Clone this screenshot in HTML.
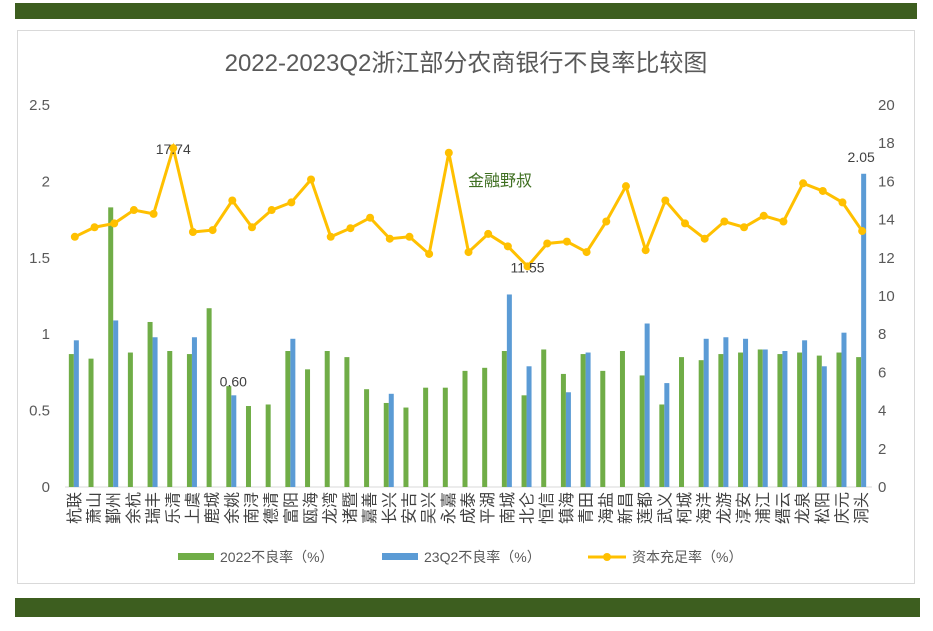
<!DOCTYPE html>
<html><head><meta charset="utf-8"><style>
body{margin:0;background:#fff;width:933px;height:626px;overflow:hidden;font-family:"Liberation Sans","Noto Sans CJK SC",sans-serif}
</style></head><body>
<svg width="933" height="626" xmlns="http://www.w3.org/2000/svg" font-family="Liberation Sans, Noto Sans CJK SC, sans-serif">
<rect x="15" y="3" width="902" height="16" fill="#3d5e1f"/>
<rect x="15" y="598" width="905" height="19" fill="#3d5e1f"/>
<rect x="17.5" y="30.5" width="897" height="553" fill="#fff" stroke="#d9d9d9"/>
<text x="466" y="71" text-anchor="middle" font-size="24" fill="#595959">2022-2023Q2浙江部分农商银行不良率比较图</text>
<g id="plot"></g>
<text x="500" y="186" text-anchor="middle" font-size="16" fill="#3d6e1f">金融野叔</text>
<g font-size="14" fill="#595959">
<rect x="178" y="553" width="36" height="7" fill="#70ad47"/><text x="220" y="562">2022不良率（%）</text>
<rect x="382" y="553" width="36" height="7" fill="#5b9bd5"/><text x="424" y="562">23Q2不良率（%）</text>
<line x1="588" y1="557" x2="626" y2="557" stroke="#ffc000" stroke-width="3"/><circle cx="607" cy="557" r="4" fill="#ffc000"/><text x="632" y="562">资本充足率（%）</text>
</g>
</svg>
<script>
const categories=["杭联","萧山","鄞州","余杭","瑞丰","乐清","上虞","鹿城","余姚","南浔","德清","富阳","瓯海","龙湾","诸暨","嘉善","长兴","安吉","吴兴","永嘉","成泰","平湖","南城","北仑","恒信","镇海","青田","海盐","新昌","莲都","武义","柯城","海洋","龙游","淳安","浦江","缙云","龙泉","松阳","庆元","洞头"];
const npl2022=[0.87,0.84,1.83,0.88,1.08,0.89,0.87,1.17,0.66,0.53,0.54,0.89,0.77,0.89,0.85,0.64,0.55,0.52,0.65,0.65,0.76,0.78,0.89,0.60,0.90,0.74,0.87,0.76,0.89,0.73,0.54,0.85,0.83,0.87,0.88,0.90,0.87,0.88,0.86,0.88,0.85];
const npl23q2=[0.96,null,1.09,null,0.98,null,0.98,null,0.60,null,null,0.97,null,null,null,null,0.61,null,null,null,null,null,1.26,0.79,null,0.62,0.88,null,null,1.07,0.68,null,0.97,0.98,0.97,0.90,0.89,0.96,0.79,1.01,2.05];
const car=[13.1,13.6,13.8,14.5,14.3,17.74,13.35,13.45,15.0,13.6,14.5,14.9,16.1,13.1,13.55,14.1,13.0,13.1,12.2,17.5,12.3,13.25,12.6,11.55,12.75,12.85,12.3,13.9,15.75,12.4,15.0,13.8,13.0,13.9,13.6,14.2,13.9,15.9,15.5,14.9,13.4];
const leftTicks=["0","0.5","1","1.5","2","2.5"];
const rightTicks=["0","2","4","6","8","10","12","14","16","18","20"];
const NS="http://www.w3.org/2000/svg";
const g=document.getElementById('plot');
const x0=65,x1=872,yB=487,yT=105;
const step=(x1-x0)/categories.length;
const yL=v=>yB-(v/2.5)*(yB-yT);
const yR=v=>yB-(v/20)*(yB-yT);
const xc=i=>x0+step*(i+0.5);
function mk(t,a){const e=document.createElementNS(NS,t);for(const k in a)e.setAttribute(k,a[k]);g.appendChild(e);return e;}
const ax=mk('line',{x1:x0,x2:x1,y1:yB,y2:yB,stroke:'#d9d9d9'});


leftTicks.forEach(t=>{const e=mk('text',{x:50,y:yL(+t)+5,'text-anchor':'end','font-size':15,fill:'#595959'});e.textContent=t;

});
rightTicks.forEach(t=>{const e=mk('text',{x:878,y:yR(+t)+5,'font-size':15,fill:'#595959'});e.textContent=t;

});
categories.forEach((c,i)=>{
 const b1=mk('rect',{x:xc(i)-6,y:yL(npl2022[i]),width:5,height:yB-yL(npl2022[i]),fill:'#70ad47'});
 
 
 if(npl23q2[i]!=null){const b2=mk('rect',{x:xc(i)-1,y:yL(npl23q2[i]),width:5,height:yB-yL(npl23q2[i]),fill:'#5b9bd5'});
 
 }
 const lx=xc(i)+5, ly=492;
 const t=mk('text',{x:lx,y:ly,'font-size':16,fill:'#404040','text-anchor':'end',transform:`rotate(-90 ${lx} ${ly})`});
 t.textContent=c;
 
 
});
const pl=mk('polyline',{points:car.map((v,i)=>xc(i)+','+yR(v)).join(' '),fill:'none',stroke:'#ffc000','stroke-width':3});


car.forEach((v,i)=>{const c=mk('circle',{cx:xc(i),cy:yR(v),r:4,fill:'#ffc000'});

});
function lbl(txt,x,y){const e=mk('text',{x:x,y:y,'text-anchor':'middle','font-size':14,fill:'#404040'});e.textContent=txt;

}
lbl('17.74',xc(5),yR(car[5])+6);
lbl('11.55',xc(23),yR(car[23])+6);
lbl('0.60',xc(8)+1,yL(npl23q2[8])-9);
lbl('2.05',xc(40)-1,yL(npl23q2[40])-12);
</script>
</body></html>
